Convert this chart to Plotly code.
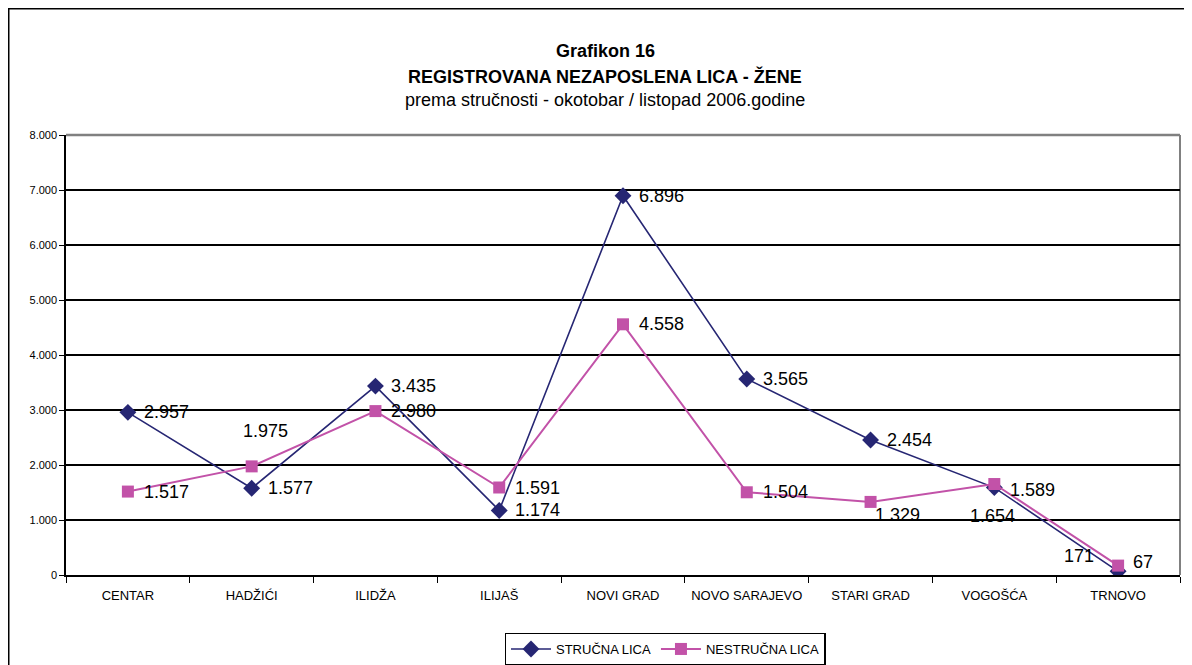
import plotly.graph_objects as go

categories = ["CENTAR", "HADŽIĆI", "ILIDŽA", "ILIJAŠ", "NOVI GRAD",
              "NOVO SARAJEVO", "STARI GRAD", "VOGOŠĆA", "TRNOVO"]
strucna = [2957, 1577, 3435, 1174, 6896, 3565, 2454, 1589, 67]
nestrucna = [1517, 1975, 2980, 1591, 4558, 1504, 1329, 1654, 171]

title_lines = ["<b>Grafikon 16</b>",
               "<b>REGISTROVANA NEZAPOSLENA LICA - ŽENE</b>",
               "prema stručnosti - okotobar / listopad 2006.godine"]

# label offsets in pixels (xshift, yshift, xanchor)
strucna_off = [(14, 0, "left"), (14, 0, "left"), (14, 0, "left"), (14, 0, "left"),
               (14, 0, "left"), (14, 0, "left"), (14, 0, "left"), (14, -2, "left"),
               (13, 9, "left")]
nestrucna_off = [(14, 0, "left"), (-11, 35, "left"), (14, 0, "left"), (14, 0, "left"),
                 (14, 0, "left"), (14, 0, "left"), (2, -13, "left"), (-26, -32, "left"),
                 (-22, 10, "right")]

BLUE = "#262673"
PINK = "#C252A8"
FONT = "Arial, Liberation Sans, sans-serif"

W, H = 1184, 657
L, R, T, B = 58, 12, 127, 90
PW = W - L - R
PH = H - T - B


def px_x(p):
    return (p - L) / PW


def px_y(p):
    return (H - B - p) / PH


def fmt(v):
    return f"{v:,}".replace(",", ".")


fig = go.Figure()
fig.add_trace(go.Scatter(
    x=categories, y=strucna, name="STRUČNA LICA", mode="lines+markers",
    line=dict(color=BLUE, width=1.6),
    marker=dict(symbol="diamond", size=13, color=BLUE),
))
fig.add_trace(go.Scatter(
    x=categories, y=nestrucna, name="NESTRUČNA LICA", mode="lines+markers",
    line=dict(color=PINK, width=2),
    marker=dict(symbol="square", size=12, color=PINK),
))

annotations = []
for cat, v, (dx, dy, xa) in zip(categories, strucna, strucna_off):
    annotations.append(dict(x=cat, y=v, xref="x", yref="y", text=fmt(v), showarrow=False,
                            xanchor=xa, yanchor="middle", xshift=dx, yshift=dy,
                            font=dict(size=18, color="black", family=FONT)))
for cat, v, (dx, dy, xa) in zip(categories, nestrucna, nestrucna_off):
    annotations.append(dict(x=cat, y=v, xref="x", yref="y", text=fmt(v), showarrow=False,
                            xanchor=xa, yanchor="middle", xshift=dx, yshift=dy,
                            font=dict(size=18, color="black", family=FONT)))
for txt, py in zip(title_lines, [43, 68, 92]):
    annotations.append(dict(x=px_x(597), y=px_y(py), xref="paper", yref="paper", text=txt,
                            showarrow=False, xanchor="center", yanchor="middle",
                            font=dict(size=18, color="black", family=FONT)))

fig.update_layout(
    width=W, height=H,
    margin=dict(l=L, r=R, t=T, b=B, autoexpand=False),
    paper_bgcolor="white", plot_bgcolor="white",
    separators=",.",
    font=dict(family=FONT, color="black"),
    xaxis=dict(
        type="category", showline=True, linecolor="black", linewidth=1.5,
        ticks="outside", tickson="boundaries", ticklen=6, tickcolor="black",
        showgrid=False, tickfont=dict(size=13, family=FONT, color="black"),
        range=[-0.5, 8.5], automargin=False, ticklabelstandoff=8, tickangle=0,
    ),
    yaxis=dict(
        range=[0, 8000], tickvals=list(range(0, 8001, 1000)), tickformat=",d",
        showline=True, linecolor="black", linewidth=1.5,
        ticks="outside", ticklen=5, tickcolor="black",
        showgrid=True, gridcolor="black", gridwidth=2, zeroline=False,
        tickfont=dict(size=11, family=FONT, color="black"), automargin=False,
    ),
    legend=dict(
        orientation="h", x=px_x(657), xanchor="center",
        y=px_y(641), yanchor="middle",
        bordercolor="black", borderwidth=1.5, bgcolor="white",
        font=dict(size=13, family=FONT, color="black"),
        itemwidth=40,
    ),
    annotations=annotations,
    shapes=[
        dict(type="line", xref="paper", yref="paper", x0=0, x1=1, y0=1, y1=1,
             line=dict(color="#808080", width=2.5), layer="between"),
        dict(type="line", xref="paper", yref="paper", x0=1, x1=1, y0=0, y1=1,
             line=dict(color="#808080", width=2), layer="between"),
        dict(type="rect", xref="paper", yref="paper",
             x0=px_x(0.5), x1=px_x(W + 10),
             y0=px_y(H + 10), y1=px_y(0.5),
             line=dict(color="black", width=2), layer="below"),
    ],
)

fig.write_html("out.html")
